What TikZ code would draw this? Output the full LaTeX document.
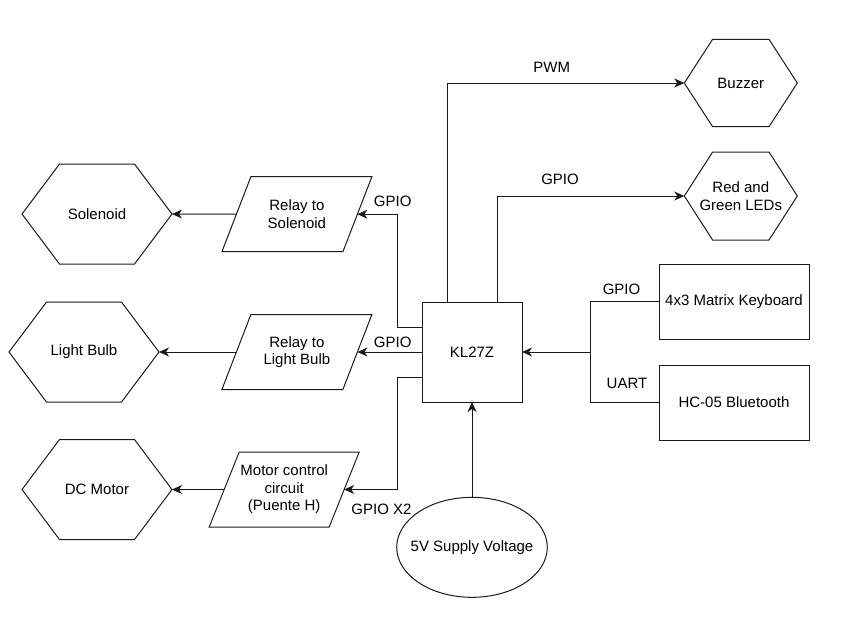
\documentclass[tikz,border=0pt]{standalone}
\usepackage{fontspec}
\setmainfont{Liberation Sans}
\usetikzlibrary{arrows.meta,calc,shapes.geometric}
\definecolor{linec}{HTML}{1A1A1A}
\newcommand\hexdraw[2]{%
  \draw[shapeline] (#1.west) -- ([xshift=#2]#1.north west) -- ([xshift=-#2]#1.north east) -- (#1.east) -- ([xshift=-#2]#1.south east) -- ([xshift=#2]#1.south west) -- cycle;}
\newcommand\paradraw[2]{%
  \draw[shapeline] (#1.south west) -- ([xshift=#2]#1.north west) -- (#1.north east) -- ([xshift=-#2]#1.south east) -- cycle;}
\begin{document}
\begin{tikzpicture}[x=1pt,y=-1pt,
  txt/.style={inner sep=0pt, outer sep=0pt, align=center, font=\fontsize{15}{17.5}\selectfont, text=black},
  hexa/.style={txt, minimum width=150pt, minimum height=100pt},
  para/.style={txt, minimum width=150pt, minimum height=75pt},
  rbox/.style={txt, draw=linec, line width=1pt, minimum width=150pt, minimum height=75pt},
  shapeline/.style={draw=linec, line width=1pt, line join=miter},
  conn/.style={draw=linec, line width=1pt},
  arr/.style={conn, -{Stealth[length=10pt,width=9pt,inset=3pt]}},
  lbl/.style={txt}]
\useasboundingbox (0,0) rectangle (858,622);
% hexagons
\node[hexa] (sol) at (97,214) {Solenoid};
\node[hexa] (lb) at (84,352) {Light Bulb};
\node[hexa] (dc) at (97,489.5) {DC Motor};
\node[txt, minimum width=113pt, minimum height=87.4pt] (bz) at (740.8,83) {Buzzer};
\node[txt, minimum width=113pt, minimum height=88pt] (led) at (740.8,196) {Red and\\Green LEDs};
\hexdraw{sol}{37.5}
\hexdraw{lb}{37.5}
\hexdraw{dc}{37.5}
\hexdraw{bz}{28.3}
\hexdraw{led}{28.3}
% parallelograms
\node[para] (rs) at (296.9,214.2) {Relay to\\Solenoid};
\node[para] (rl) at (296.9,352) {Relay to\\Light Bulb};
\node[para] (mc) at (284.2,489.5) {Motor control\\circuit\\(Puente H)};
\paradraw{rs}{29}
\paradraw{rl}{29}
\paradraw{mc}{30}
% boxes
\node[txt, draw=linec, line width=1pt, minimum width=100pt, minimum height=100pt] (kl) at (472,352) {KL27Z};
\node[rbox] (kb) at (734,301.8) {4x3 Matrix Keyboard};
\node[rbox] (hc) at (734,402.5) {HC-05 Bluetooth};
\node[draw=linec, line width=1pt, ellipse, inner sep=0pt, outer sep=0pt, minimum width=150.6pt, minimum height=100pt] (sv) at (472,547.3) {};
\node[txt] (svt) at (sv.center) {5V Supply Voltage};
% coordinates
\coordinate (rsR) at ([xshift=-14.5]rs.east);
\coordinate (rsL) at ([xshift=14.5]rs.west);
\coordinate (rlR) at ([xshift=-14.5]rl.east);
\coordinate (rlL) at ([xshift=14.5]rl.west);
\coordinate (mcR) at ([xshift=-15]mc.east);
\coordinate (mcL) at ([xshift=15]mc.west);
\coordinate (bus) at (590.7,352);
% connectors
\draw[arr] ([yshift=25]kl.west) -- ++(-25,0) |- (rsR);
\draw[arr] (kl.west) -- (rlR);
\draw[arr] ([yshift=-25]kl.west) -- ++(-25,0) |- (mcR);
\draw[arr] (rsL) -- (sol.east);
\draw[arr] (rlL) -- (lb.east);
\draw[arr] (mcL) -- (dc.east);
\draw[arr] ([xshift=-25]kl.north) |- (bz.west);
\draw[arr] ([xshift=25]kl.north) |- (led.west);
\draw[conn] (kb.west) -| (bus) |- (hc.west);
\draw[arr] (bus) -- (kl.east);
\draw[arr] (sv.north) -- (kl.south);
% labels
\node[lbl] (lpwm) at (551.7,67.3) {PWM};
\node[lbl] (lled) at (560,179) {GPIO};
\node[lbl] (lrs) at (392.7,201.7) {GPIO};
\node[lbl] (lrl) at (392.7,342.7) {GPIO};
\node[lbl] (lmc) at (381.5,509.3) {GPIO X2};
\node[lbl] (lkb) at (621.5,289) {GPIO};
\node[lbl] (lhc) at (627,383.3) {UART};
\end{tikzpicture}
\end{document}
